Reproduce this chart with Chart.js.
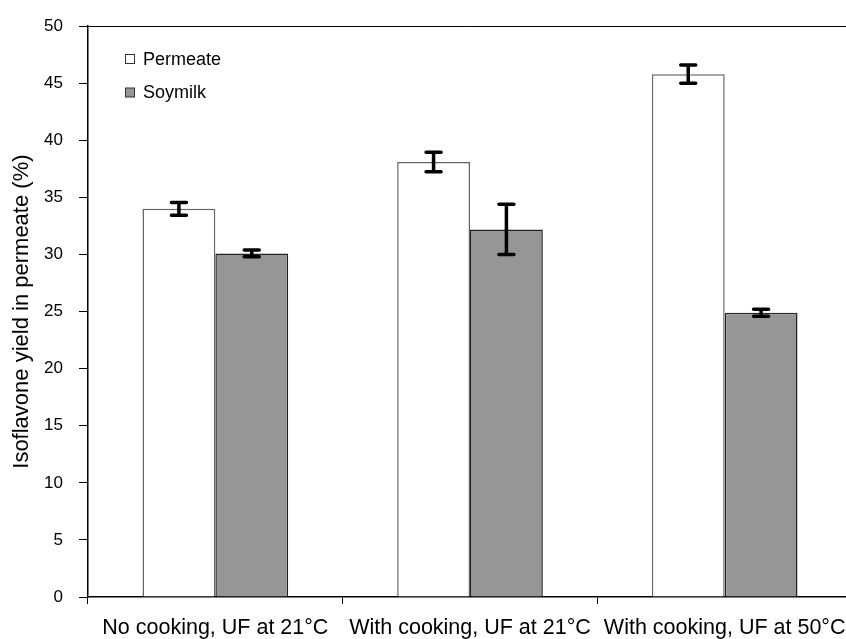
<!DOCTYPE html>
<html>
<head>
<meta charset="utf-8">
<script src="https://cdn.jsdelivr.net/npm/chart.js@4"></script>
<style>
  html, body { margin: 0; padding: 0; background: #fff; overflow: hidden; }
  #wrap { width: 846px; height: 639px; overflow: hidden; }
</style>
</head>
<body>
<div id="wrap"><canvas id="chart" width="860" height="639"></canvas></div>
<script>
const categories = ['No cooking, UF at 21°C', 'With cooking, UF at 21°C', 'With cooking, UF at 50°C'];
const permeate = [34.0, 38.1, 45.8];
const permeateErr = [0.55, 0.85, 0.8];
const soymilk = [30.1, 32.2, 24.9];
const soymilkErr = [0.3, 2.2, 0.3];
const yTicks = [0, 5, 10, 15, 20, 25, 30, 35, 40, 45, 50];

const FONT = "'Liberation Sans', Arial, sans-serif";
const errors = [permeateErr, soymilkErr];

// draws the error bars from the y scale
const errorBars = {
    id: 'errorBars',
    afterDatasetsDraw(chart) {
        const ctx = chart.ctx;
        const y = chart.scales.y;
        ctx.save();
        ctx.strokeStyle = '#000';
        ctx.lineWidth = 3.5;
        ctx.lineCap = 'round';
        chart.data.datasets.forEach((ds, i) => {
            chart.getDatasetMeta(i).data.forEach((bar, j) => {
                const v = ds.data[j];
                const e = errors[i][j];
                const top = y.getPixelForValue(v + e);
                const bot = y.getPixelForValue(v - e);
                ctx.beginPath();
                ctx.moveTo(bar.x, top); ctx.lineTo(bar.x, bot);
                ctx.moveTo(bar.x - 7.5, top); ctx.lineTo(bar.x + 7.5, top);
                ctx.moveTo(bar.x - 7.5, bot); ctx.lineTo(bar.x + 7.5, bot);
                ctx.stroke();
            });
        });
        ctx.restore();
    }
};

// legend inside the plot, top-left
const insideLegend = {
    id: 'insideLegend',
    afterDraw(chart) {
        const ctx = chart.ctx;
        const left = chart.chartArea.left + 37;
        ctx.save();
        ctx.font = '18px ' + FONT;
        ctx.textBaseline = 'middle';
        chart.data.datasets.forEach((ds, i) => {
            const cy = 59 + i * 33.5;
            ctx.fillStyle = ds.backgroundColor;
            ctx.fillRect(left, cy - 4.5, 9, 9);
            ctx.strokeStyle = '#333';
            ctx.lineWidth = 1;
            ctx.strokeRect(left + 0.5, cy - 4.5, 9, 9);
            ctx.fillStyle = '#000';
            ctx.fillText(ds.label, left + 18, cy + 1);
        });
        ctx.restore();
    }
};

new Chart(document.getElementById('chart'), {
    type: 'bar',
    data: {
        labels: categories,
        datasets: [
            {
                label: 'Permeate',
                data: permeate,
                backgroundColor: '#ffffff',
                borderColor: '#666666',
                borderWidth: 1.5,
                borderSkipped: 'bottom'
            },
            {
                label: 'Soymilk',
                data: soymilk,
                backgroundColor: '#969696',
                borderColor: '#222222',
                borderWidth: 1.5,
                borderSkipped: 'bottom'
            }
        ]
    },
    options: {
        responsive: false,
        animation: false,
        devicePixelRatio: 1,
        categoryPercentage: 0.572,
        barPercentage: 1,
        layout: { padding: { top: 25, right: 8, left: 0, bottom: 0 } },
        plugins: {
            legend: { display: false },
            tooltip: { enabled: false }
        },
        scales: {
            x: {
                grid: {
                    drawOnChartArea: false,
                    tickLength: 7,
                    color: '#000',
                    lineWidth: 1
                },
                border: { color: '#000', width: 1.5 },
                ticks: {
                    color: '#000',
                    font: { family: FONT, size: 21.5 },
                    padding: 11,
                    maxRotation: 0,
                    autoSkip: false
                },
                afterFit(scale) { scale.height = 42; }
            },
            y: {
                min: 0,
                max: 50,
                afterBuildTicks(scale) { scale.ticks = yTicks.map(v => ({ value: v })); },
                grid: {
                    drawOnChartArea: true,
                    color: c => (c.tick && c.tick.value === 50) ? '#000' : 'rgba(0,0,0,0)',
                    tickColor: '#000',
                    tickLength: 9,
                    lineWidth: 1
                },
                border: { color: '#000', width: 1.5 },
                ticks: {
                    color: '#000',
                    font: { family: FONT, size: 17 },
                    padding: 16
                },
                title: {
                    display: true,
                    text: 'Isoflavone yield in permeate (%)',
                    color: '#000',
                    font: { family: FONT, size: 22 },
                    padding: { top: 9, bottom: 0 }
                },
                afterFit(scale) { scale.width = 88; }
            }
        }
    },
    plugins: [errorBars, insideLegend]
});
</script>
</body>
</html>
